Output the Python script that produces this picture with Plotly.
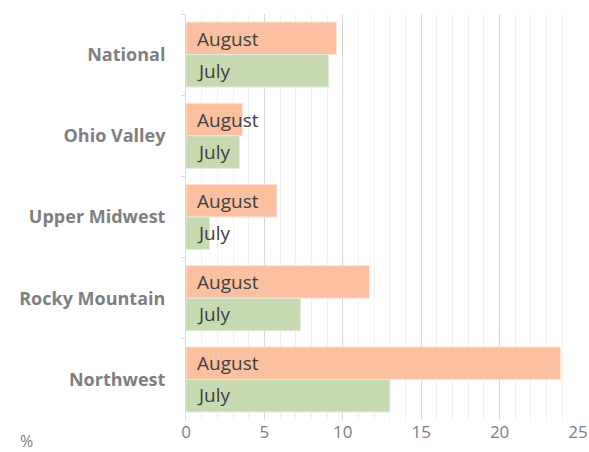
import plotly.graph_objects as go

regions = ["National", "Ohio Valley", "Upper Midwest", "Rocky Mountain", "Northwest"]
august = [9.6, 3.6, 5.8, 11.7, 23.9]
july = [9.1, 3.4, 1.5, 7.3, 13.0]
series_names = ["August", "July"]
x_ticks = [0, 5, 10, 15, 20, 25]

fig = go.Figure()
fig.add_trace(go.Bar(
    y=regions, x=august, orientation="h", name=series_names[0],
    marker=dict(color="#FBC0A0", line=dict(color="#FDE3D5", width=1)),
))
fig.add_trace(go.Bar(
    y=regions, x=july, orientation="h", name=series_names[1],
    marker=dict(color="#C7D9B0", line=dict(color="#E3ECD8", width=1)),
))

# in-bar series labels, anchored at the base (x=0) of each bar
for r in regions:
    for name, shift in zip(series_names, [16, -16]):
        fig.add_annotation(
            x=0, y=r, xref="x", yref="y", text=name, showarrow=False,
            xanchor="left", yanchor="middle", xshift=9, yshift=shift,
            font=dict(family="Open Sans", size=19, color="#404040"),
        )

fig.update_layout(
    width=589, height=452,
    margin=dict(l=186, r=11, t=14, b=32, autoexpand=False),
    barmode="group", bargap=0.2, bargroupgap=0,
    showlegend=False,
    plot_bgcolor="white", paper_bgcolor="white",
    font=dict(family="Open Sans", color="#7F7F7F"),
)
fig.update_xaxes(
    range=[0, 25], tickvals=x_ticks, ticktext=[str(v) for v in x_ticks],
    showgrid=True, gridcolor="#D9D9D9", gridwidth=1,
    minor=dict(dtick=1, showgrid=True, gridcolor="#F0F0F0", gridwidth=1),
    zeroline=False, showline=False, ticks="", automargin=False,
    tickfont=dict(family="Open Sans", size=17, color="#7F7F7F"),
)
fig.update_yaxes(
    categoryorder="array", categoryarray=regions, autorange="reversed",
    showline=True, linecolor="#D9D9D9", linewidth=1,
    ticks="outside", tickson="boundaries", ticklen=4, tickcolor="#D9D9D9",
    showgrid=False, automargin=False,
    tickfont=dict(family="Open Sans", size=18, color="#7F7F7F", weight="bold"),
    ticklabelstandoff=16,
)
fig.add_annotation(
    text="%", xref="paper", yref="paper", x=-0.406, y=-0.052,
    xanchor="center", yanchor="middle", showarrow=False,
    font=dict(family="Open Sans", size=16, color="#7F7F7F"),
)

fig.write_html(
    "out.html",
    config={"displayModeBar": False},
    post_script="document.body.style.margin='0';document.body.style.overflow='hidden';",
)
